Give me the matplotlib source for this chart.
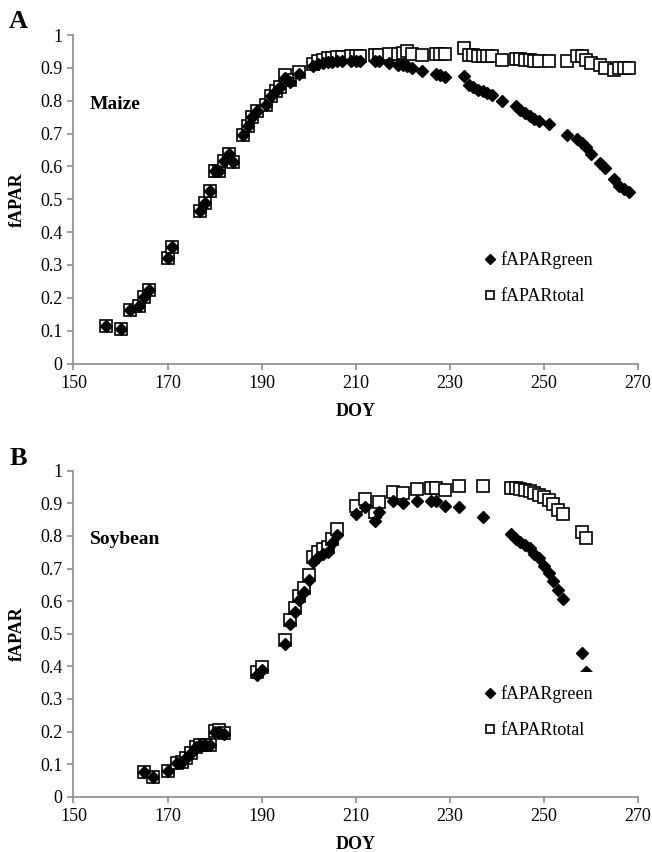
import numpy as np
import matplotlib
matplotlib.use('Agg')
import matplotlib.pyplot as plt

plt.rcParams['font.family'] = ['Liberation Serif', 'DejaVu Serif']

# Maize (panel A)
maize_doy = [157, 160, 162, 164, 165, 166, 170, 171, 177, 178, 179, 180, 181, 182, 183, 184,
             186, 187, 188, 189, 191, 192, 193, 194, 195, 196, 198, 201, 202, 203, 204, 205,
             206, 207, 209, 210, 211, 214, 215, 217, 219, 220, 221, 222, 224, 227, 228, 229,
             233, 234, 235, 236, 237, 238, 239, 241, 244, 245, 246, 247, 248, 249, 251, 255,
             257, 258, 259, 260, 262, 263, 265, 266, 267, 268]
maize_total = [0.114, 0.106, 0.164, 0.175, 0.202, 0.225, 0.320, 0.355, 0.463, 0.489, 0.526, 0.585,
               0.585, 0.617, 0.639, 0.613, 0.695, 0.724, 0.751, 0.770, 0.787, 0.814, 0.829, 0.843,
               0.877, 0.862, 0.886, 0.912, 0.920, 0.925, 0.930, 0.931, 0.933, 0.933, 0.936, 0.936,
               0.936, 0.939, 0.939, 0.943, 0.941, 0.945, 0.951, 0.942, 0.940, 0.942, 0.942, 0.942,
               0.960, 0.940, 0.938, 0.937, 0.937, 0.936, 0.935, 0.925, 0.928, 0.926, 0.924, 0.923,
               0.922, 0.921, 0.920, 0.920, 0.935, 0.935, 0.925, 0.915, 0.910, 0.900, 0.892, 0.900,
               0.900, 0.900]
maize_green = [0.114, 0.106, 0.164, 0.175, 0.202, 0.225, 0.320, 0.355, 0.463, 0.489, 0.526, 0.585,
               0.585, 0.617, 0.639, 0.613, 0.695, 0.724, 0.751, 0.770, 0.787, 0.814, 0.829, 0.843,
               0.870, 0.858, 0.880, 0.905, 0.912, 0.915, 0.918, 0.918, 0.920, 0.920, 0.921, 0.921,
               0.921, 0.920, 0.920, 0.915, 0.910, 0.908, 0.905, 0.900, 0.889, 0.881, 0.879, 0.872,
               0.874, 0.849, 0.841, 0.834, 0.829, 0.823, 0.817, 0.800, 0.785, 0.773, 0.763, 0.753,
               0.745, 0.738, 0.728, 0.696, 0.685, 0.672, 0.660, 0.639, 0.611, 0.594, 0.561, 0.541,
               0.531, 0.521]

# Soybean (panel B)
soy_doy = [165, 167, 170, 172, 173, 174, 175, 176, 177, 178, 179, 180, 181, 182, 189, 190,
           195, 196, 197, 198, 199, 200, 201, 202, 203, 204, 205, 206, 210, 212, 214, 215,
           218, 220, 223, 226, 227, 229, 232, 237, 243, 244, 245, 246, 247, 248, 249, 250,
           251, 252, 253, 254, 258, 259]
soy_total = [0.077, 0.061, 0.079, 0.102, 0.107, 0.118, 0.133, 0.153, 0.158, 0.158, 0.158, 0.201,
             0.204, 0.196, 0.383, 0.399, 0.480, 0.542, 0.578, 0.617, 0.641, 0.680, 0.734, 0.752,
             0.759, 0.765, 0.790, 0.821, 0.892, 0.912, 0.874, 0.903, 0.936, 0.932, 0.943, 0.948,
             0.948, 0.941, 0.953, 0.953, 0.946, 0.946, 0.944, 0.941, 0.938, 0.933, 0.925, 0.918,
             0.910, 0.898, 0.879, 0.867, 0.813, 0.795]
soy_green = [0.077, 0.061, 0.079, 0.102, 0.107, 0.118, 0.133, 0.153, 0.158, 0.158, 0.158, 0.198,
             0.200, 0.192, 0.373, 0.390, 0.468, 0.530, 0.567, 0.603, 0.629, 0.665, 0.721, 0.736,
             0.746, 0.751, 0.777, 0.804, 0.867, 0.890, 0.847, 0.874, 0.908, 0.902, 0.908, 0.908,
             0.908, 0.893, 0.888, 0.859, 0.806, 0.792, 0.782, 0.772, 0.762, 0.746, 0.731, 0.707,
             0.685, 0.663, 0.634, 0.606, 0.440, 0.383]

panels = [('A', 'Maize', maize_doy, maize_green, maize_total),
          ('B', 'Soybean', soy_doy, soy_green, soy_total)]

fig = plt.figure(figsize=(6.52, 8.52), dpi=100)
rects = [[0.1127, 0.5733, 0.8658, 0.3856], [0.1127, 0.0649, 0.8658, 0.3826]]
letter_pos = [(0.014, 0.975), (0.014, 0.462)]

for (letter, crop, doy, green, total), rect, lp in zip(panels, rects, letter_pos):
    ax = fig.add_axes(rect)
    ax.plot(doy, total, 's', ls='none', mfc='white', mec='black', mew=1.2, ms=8,
            label='fAPARtotal', clip_on=False, zorder=2)
    ax.plot(doy, green, 'D', ls='none', color='black', ms=6.5,
            label='fAPARgreen', clip_on=False, zorder=3)
    ax.set_xlim(150, 270)
    ax.set_ylim(0, 1)
    ax.set_xticks(np.arange(150, 271, 20))
    ax.set_yticks(np.arange(0, 1.01, 0.1))
    ax.set_yticklabels(['0', '0.1', '0.2', '0.3', '0.4', '0.5', '0.6', '0.7', '0.8', '0.9', '1'])
    for s in ['top', 'right']:
        ax.spines[s].set_visible(False)
    for s in ['left', 'bottom']:
        ax.spines[s].set_color('#8c8c8c')
        ax.spines[s].set_linewidth(1.2)
    ax.tick_params(direction='out', length=4, color='#8c8c8c', width=1.2,
                   labelsize=13, pad=4)
    ax.set_xlabel('DOY', fontsize=13, fontweight='bold', labelpad=8)
    ax.set_ylabel('fAPAR', fontsize=13, fontweight='bold', labelpad=10)
    ax.text(153.5, 0.79, crop, fontsize=14, fontweight='bold', va='center', ha='left')
    fig.text(lp[0], lp[1], letter, fontsize=19, fontweight='bold', va='center', ha='left')
    # white legend box hides whatever lies behind it, as in the original
    h, l = ax.get_legend_handles_labels()
    leg = ax.legend(h[::-1], l[::-1], loc='upper left', bbox_to_anchor=(0.688, 0.41),
                    fontsize=13, frameon=True, handlelength=0.6, handletextpad=0.3,
                    labelspacing=1.05, borderpad=0.75, markerscale=0.8)
    leg.get_frame().set_edgecolor('none')
    leg.get_frame().set_facecolor('white')
    leg.get_frame().set_alpha(1)
    leg.set_zorder(5)

fig.savefig('out.png', dpi=100)
